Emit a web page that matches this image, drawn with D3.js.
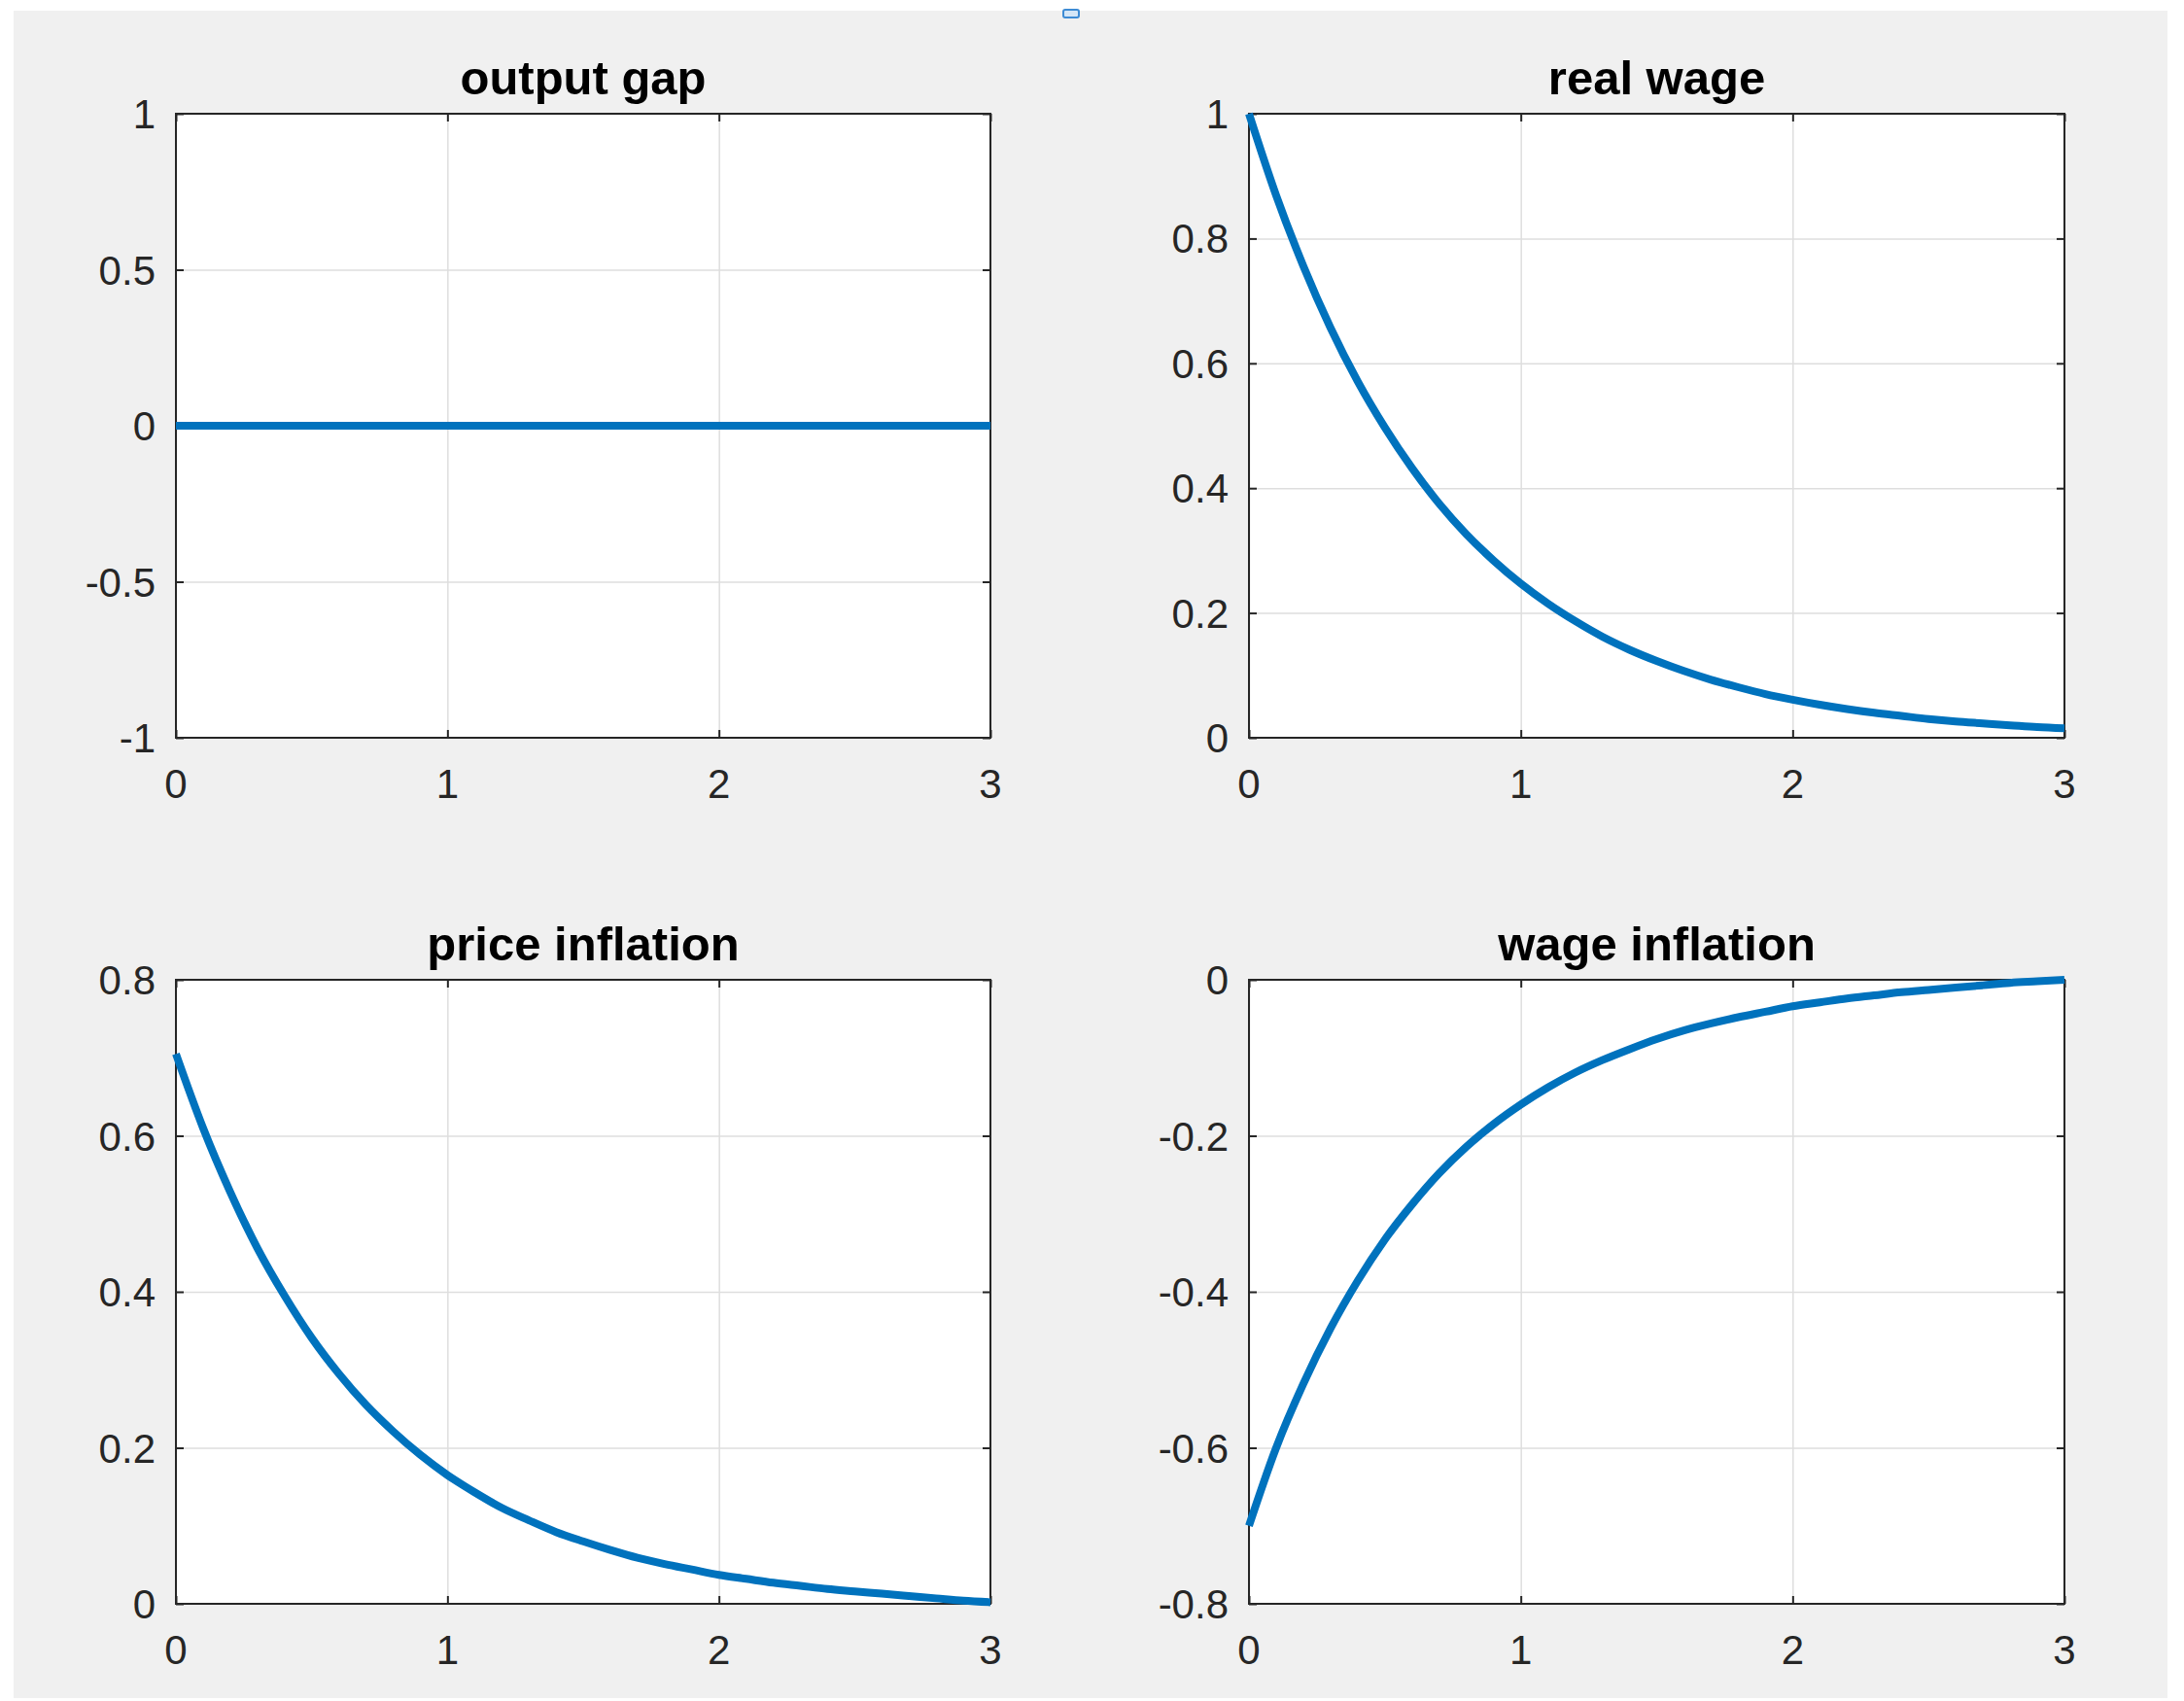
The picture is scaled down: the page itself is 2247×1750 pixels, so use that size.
<!DOCTYPE html>
<html>
<head>
<meta charset="utf-8">
<script src="https://cdn.jsdelivr.net/npm/d3@7"></script>
<style>
  html, body { margin: 0; padding: 0; background: #ffffff; }
  svg { display: block; }
</style>
</head>
<body>
<svg id="chart" width="2247" height="1750"></svg>
<script>
// ---------------- DATA ----------------
const timeSteps = [0,0.1,0.2,0.3,0.4,0.5,0.6,0.7,0.8,0.9,1.0,1.1,1.2,1.3,1.4,1.5,1.6,1.7,1.8,1.9,2.0,2.1,2.2,2.3,2.4,2.5,2.6,2.7,2.8,2.9,3.0];

const outputGap = [0,0,0,0,0,0,0,0,0,0,0,0,0,0,0,0,0,0,0,0,0,0,0,0,0,0,0,0,0,0,0];

const realWage = [1.000,0.869,0.756,0.657,0.571,0.497,0.432,0.375,0.326,0.284,0.247,
                  0.215,0.187,0.162,0.141,0.123,0.107,0.093,0.081,0.070,0.061,
                  0.053,0.046,0.040,0.035,0.030,0.026,0.023,0.020,0.017,0.015];

const priceInflation = [0.705,0.610,0.528,0.456,0.395,0.341,0.295,0.255,0.221,0.191,0.165,
                        0.143,0.123,0.107,0.092,0.080,0.069,0.059,0.051,0.044,0.037,
                        0.032,0.027,0.023,0.019,0.016,0.013,0.010,0.007,0.004,0.002];

const wageInflation = [-0.700,-0.600,-0.518,-0.447,-0.386,-0.333,-0.288,-0.248,-0.214,-0.185,-0.160,
                       -0.138,-0.119,-0.103,-0.089,-0.076,-0.065,-0.056,-0.048,-0.041,-0.034,
                       -0.029,-0.024,-0.020,-0.016,-0.013,-0.010,-0.007,-0.004,-0.002,0.000];

const panelTitles = ["output gap", "real wage", "price inflation", "wage inflation"];

const xTicks = [0, 1, 2, 3];
const xTickLabels = ["0", "1", "2", "3"];

const yTicksOutputGap = [-1, -0.5, 0, 0.5, 1];
const yTickLabelsOutputGap = ["-1", "-0.5", "0", "0.5", "1"];
const yTicksRealWage = [0, 0.2, 0.4, 0.6, 0.8, 1];
const yTickLabelsRealWage = ["0", "0.2", "0.4", "0.6", "0.8", "1"];
const yTicksPrice = [0, 0.2, 0.4, 0.6, 0.8];
const yTickLabelsPrice = ["0", "0.2", "0.4", "0.6", "0.8"];
const yTicksWage = [-0.8, -0.6, -0.4, -0.2, 0];
const yTickLabelsWage = ["-0.8", "-0.6", "-0.4", "-0.2", "0"];

const yDomains = [[-1, 1], [0, 1], [0, 0.8], [-0.8, 0]];

// ---------------- LAYOUT / STYLE ----------------
const cols = [[181, 1019], [1285, 2124]];
const rows = [[117, 759], [1008, 1650]];
const FONT = "'Liberation Sans', Arial, Helvetica, sans-serif";
const LINE_COLOR = "#0072BD";
const AXIS_COLOR = "#262626";
const GRID_COLOR = "#dedede";

const series = [outputGap, realWage, priceInflation, wageInflation];
const yTickSets = [yTicksOutputGap, yTicksRealWage, yTicksPrice, yTicksWage];
const yLabelSets = [yTickLabelsOutputGap, yTickLabelsRealWage, yTickLabelsPrice, yTickLabelsWage];

const svg = d3.select("#chart");

// figure background
svg.append("rect").attr("x", 0).attr("y", 0).attr("width", 2247).attr("height", 1750).attr("fill", "#ffffff");
svg.append("rect").attr("x", 14).attr("y", 11).attr("width", 2216).attr("height", 1736).attr("fill", "#f0f0f0");
// small toolbar artifact at the top
svg.append("rect").attr("x", 1094).attr("y", 10).attr("width", 16).attr("height", 8)
  .attr("rx", 2).attr("fill", "#d4e6f7").attr("stroke", "#3d8bd4").attr("stroke-width", 2);

series.forEach((vals, i) => {
  const [x0, x1] = cols[i % 2];
  const [y0, y1] = rows[Math.floor(i / 2)];
  const x = d3.scaleLinear().domain([0, 3]).range([x0, x1]);
  const y = d3.scaleLinear().domain(yDomains[i]).range([y1, y0]);
  const g = svg.append("g");

  // plot area
  g.append("rect").attr("x", x0).attr("y", y0).attr("width", x1 - x0).attr("height", y1 - y0).attr("fill", "#ffffff");

  // grid lines
  const gx = d3.axisBottom(x).tickValues(xTicks).tickSize(-(y1 - y0)).tickFormat("");
  g.append("g").attr("transform", `translate(0,${y1})`).call(gx)
    .call(s => s.select(".domain").remove())
    .call(s => s.selectAll("line").attr("stroke", GRID_COLOR).attr("stroke-width", 1.5));
  const gy = d3.axisLeft(y).tickValues(yTickSets[i]).tickSize(-(x1 - x0)).tickFormat("");
  g.append("g").attr("transform", `translate(${x0},0)`).call(gy)
    .call(s => s.select(".domain").remove())
    .call(s => s.selectAll("line").attr("stroke", GRID_COLOR).attr("stroke-width", 1.5));

  // inward ticks on all four sides
  const TL = 8;
  const tickStyle = s => s.call(t => t.select(".domain").remove())
    .call(t => t.selectAll("line").attr("stroke", AXIS_COLOR).attr("stroke-width", 2));
  g.append("g").attr("transform", `translate(0,${y1})`)
    .call(d3.axisBottom(x).tickValues(xTicks).tickSize(-TL).tickFormat("")).call(tickStyle);
  g.append("g").attr("transform", `translate(0,${y0})`)
    .call(d3.axisTop(x).tickValues(xTicks).tickSize(-TL).tickFormat("")).call(tickStyle);
  g.append("g").attr("transform", `translate(${x0},0)`)
    .call(d3.axisLeft(y).tickValues(yTickSets[i]).tickSize(-TL).tickFormat("")).call(tickStyle);
  g.append("g").attr("transform", `translate(${x1},0)`)
    .call(d3.axisRight(y).tickValues(yTickSets[i]).tickSize(-TL).tickFormat("")).call(tickStyle);

  // box
  g.append("rect").attr("x", x0).attr("y", y0).attr("width", x1 - x0).attr("height", y1 - y0)
    .attr("fill", "none").attr("stroke", AXIS_COLOR).attr("stroke-width", 2);

  // tick labels
  g.selectAll(".xl").data(xTicks).enter().append("text")
    .attr("x", d => x(d)).attr("y", y1 + 62)
    .attr("text-anchor", "middle")
    .attr("font-family", FONT).attr("font-size", 42).attr("fill", AXIS_COLOR)
    .text((d, k) => xTickLabels[k]);
  g.selectAll(".yl").data(yTickSets[i]).enter().append("text")
    .attr("x", x0 - 21).attr("y", d => y(d) + 15)
    .attr("text-anchor", "end")
    .attr("font-family", FONT).attr("font-size", 42).attr("fill", AXIS_COLOR)
    .text((d, k) => yLabelSets[i][k]);

  // title
  g.append("text").attr("x", (x0 + x1) / 2).attr("y", y0 - 20)
    .attr("text-anchor", "middle")
    .attr("font-family", FONT).attr("font-size", 49).attr("font-weight", "bold").attr("fill", "#000000")
    .text(panelTitles[i]);

  // data line
  const line = d3.line().x((d, k) => x(timeSteps[k])).y(d => y(d)).curve(d3.curveMonotoneX);
  g.append("path").datum(vals).attr("d", line)
    .attr("fill", "none").attr("stroke", LINE_COLOR).attr("stroke-width", 8)
    .attr("stroke-linejoin", "round");
});
</script>
</body>
</html>
